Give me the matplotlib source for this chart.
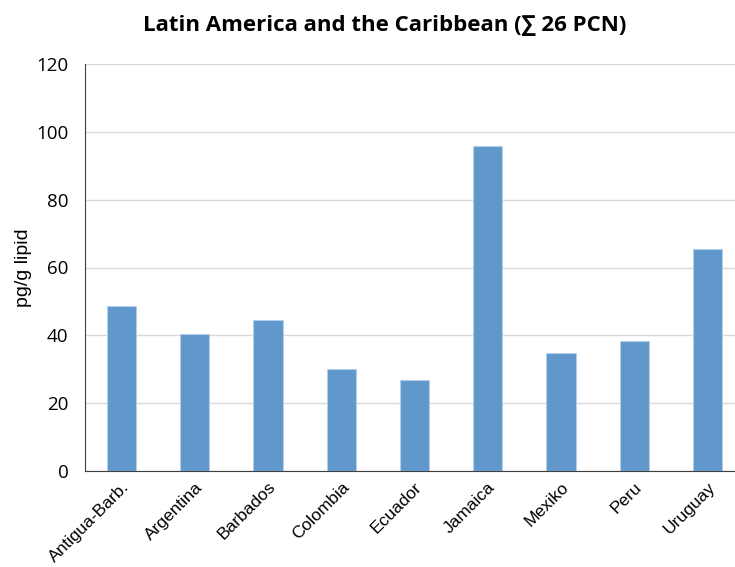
import matplotlib.pyplot as plt
import numpy as np

countries = ["Antigua-Barb.", "Argentina", "Barbados", "Colombia", "Ecuador",
             "Jamaica", "Mexiko", "Peru", "Uruguay"]
pcn_sum = [48.6, 40.5, 44.6, 30.2, 26.8, 95.8, 34.8, 38.4, 65.4]
y_ticks = [0, 20, 40, 60, 80, 100, 120]

fig = plt.figure(figsize=(7.35, 5.67), dpi=100)
ax = fig.add_axes([85 / 735, 1 - 471 / 567, 659 / 735, 407 / 567])

x = np.arange(len(countries))
ax.bar(x, pcn_sum, width=0.4, color="#6198cc", edgecolor="#b4cde8", linewidth=0.8, zorder=3)

ax.set_xlim(-0.5, len(countries) - 0.5)
ax.set_ylim(0, 120)
ax.set_yticks(y_ticks)
ax.set_yticklabels([str(t) for t in y_ticks], fontfamily="Open Sans", fontsize=13.5)
ax.set_xticks(x)
ax.set_xticklabels(countries, rotation=45, ha="right", va="top", rotation_mode="anchor",
                   fontfamily="Liberation Sans", fontsize=12.5)
ax.tick_params(axis="y", length=0, pad=12)
ax.tick_params(axis="x", length=0, pad=6)

ax.grid(axis="y", color="#d9d9d9", linewidth=1, zorder=0)
for side in ["top", "right"]:
    ax.spines[side].set_visible(False)
ax.spines["left"].set_color("#404040")
ax.spines["bottom"].set_color("#404040")

ax.set_ylabel("pg/g lipid", fontfamily="Liberation Sans", fontsize=14, labelpad=3)
fig.text(385 / 735, 1 - 25 / 567, "Latin America and the Caribbean (∑ 26 PCN)",
         ha="center", va="center", fontfamily="Open Sans", fontweight="bold", fontsize=16)

fig.savefig("out.png", dpi=100)
